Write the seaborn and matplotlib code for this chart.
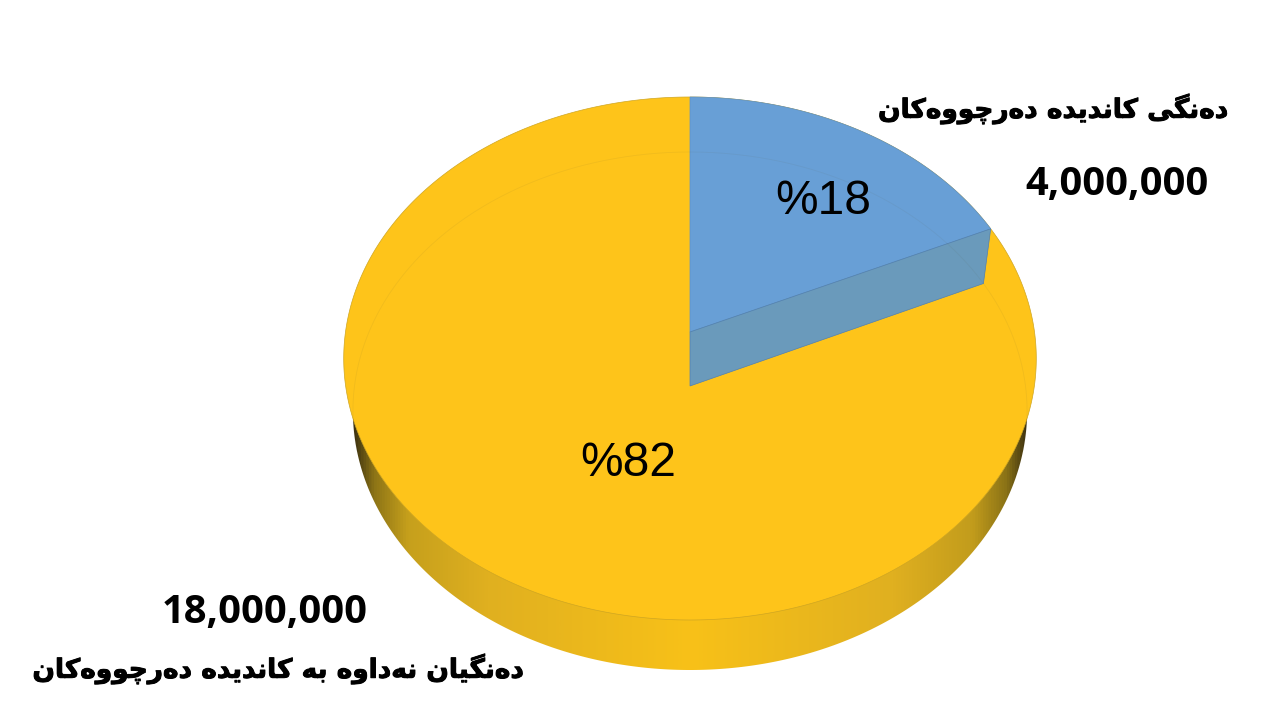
import numpy as np
import seaborn as sns
import matplotlib.pyplot as plt
import matplotlib.patheffects as pe
from matplotlib.colors import LinearSegmentedColormap
from matplotlib.patches import Polygon

# values
categories = ["دەنگی کاندیدە دەرچووەکان", "دەنگیان نەداوە بە کاندیدە دەرچووەکان"]
votes = [4000000, 18000000]
percent_labels = ["%18", "%82"]

# perspective of the disc, in pixels: centre x, half width, and the three y's
# of the far edge / apex / near edge give a projective mapping
TOP_FACE = dict(cx=690, width=344.5, far=97, apex=332, near=620)
BOTTOM_FACE = dict(cx=690, width=335.5, far=152, apex=386, near=670)

# matplotlib does no arabic shaping, so pick the presentation forms by hand
FORMS = {
    "ا": "\ufe8d\ufe8e", "د": "\ufea9\ufeaa", "ر": "\ufead\ufeae",
    "و": "\ufeed\ufeee", "ە": "\u06d5\ufeea",
    "ن": "\ufee5\ufee6\ufee7\ufee8", "گ": "\ufb92\ufb93\ufb94\ufb95",
    "ک": "\ufb8e\ufb8f\ufb90\ufb91", "ی": "\ufbfc\ufbfd\ufbfe\ufbff",
    "چ": "\ufb7a\ufb7b\ufb7c\ufb7d", "ب": "\ufe8f\ufe90\ufe91\ufe92",
}


def shape(text):
    out = []
    for i, ch in enumerate(text):
        if ch not in FORMS:
            out.append(ch)
            continue
        before = text[i - 1] if i > 0 else " "
        after = text[i + 1] if i + 1 < len(text) else " "
        joins_prev = before in FORMS and len(FORMS[before]) == 4
        joins_next = after in FORMS and len(FORMS[ch]) == 4
        # forms are ordered isolated, final, initial, medial
        out.append(FORMS[ch][int(joins_prev) + 2 * int(joins_next)])
    return "".join(reversed(out))


def project(face, theta, r=1.0):
    # theta clockwise from 12 o'clock, r 0..1 on the disc
    far, apex, near = face["far"], face["apex"], face["near"]
    c = (far + near - 2 * apex) / (near - far)
    a = far * (1 + c) - apex
    v = r * np.cos(theta)
    u = r * np.sin(theta)
    den = 1 + c * v
    return face["cx"] + face["width"] * u / den, (a * v + apex) / den


sns.set_theme(style="white")
plt.rcParams["font.family"] = ["Liberation Sans", "DejaVu Sans"]

blue, yellow = sns.color_palette(["#689FD6", "#FEC41A"])
blue_wall = "#6A9ABB"

fig, ax = plt.subplots(figsize=(12.8, 7.2), dpi=100)
fig.subplots_adjust(left=0, right=1, top=1, bottom=0)

shares = np.array(votes) / sum(votes)
sweep = shares[0] * 2 * np.pi
circle = np.linspace(0, 2 * np.pi, 721)

# side wall: horizontal shading clipped to the lower ellipse
wall_cmap = LinearSegmentedColormap.from_list("wall", [
    (0.00, "#3d3210"), (0.03, "#8d7416"), (0.08, "#c6a01c"), (0.20, "#e0b020"),
    (0.50, "#f8c118"), (0.80, "#e0b020"), (0.92, "#c29c1c"), (0.97, "#8a7216"),
    (1.00, "#3d3210"),
])
bx, by = project(BOTTOM_FACE, circle)
im = ax.imshow(np.linspace(0, 1, 512)[None, :], cmap=wall_cmap, aspect="auto",
               extent=(bx.min(), bx.max(), by.max(), by.min()))
im.set_clip_path(Polygon(np.c_[bx, by], transform=ax.transData))

# yellow top face
tx, ty = project(TOP_FACE, circle)
ax.fill(tx, ty, fc=yellow, ec="#CFA622", lw=0.5)

# blue slice pulled from the disc
arc = np.linspace(0, sweep, 200)
arc_x, arc_y = project(TOP_FACE, arc)
apex_x, apex_y = project(TOP_FACE, 0.0, 0.0)
ax.fill(np.r_[apex_x, arc_x], np.r_[apex_y, arc_y], fc=blue, ec="#5F93C8", lw=0.5)

# inner wall of the slice
ex, ey = project(TOP_FACE, sweep)
fx, fy = project(BOTTOM_FACE, sweep)
bax, bay = project(BOTTOM_FACE, 0.0, 0.0)
ax.fill([apex_x, ex, fx, bax], [apex_y, ey, fy, bay], fc=blue_wall, ec="#4F80B4", lw=0.5)

# faint far edge of the bottom face seen through the top
back = np.linspace(-np.pi / 2 - 0.25, np.pi / 2 + 0.25, 300)
lx, ly = project(BOTTOM_FACE, back)
ax.plot(lx, ly, color="#5a5a3a", lw=0.6, alpha=0.08)

ax.text(823, 201, percent_labels[0], fontsize=34.5, ha="center", va="center", color="black")
ax.text(628, 464, percent_labels[1], fontsize=34.5, ha="center", va="center", color="black")

ax.text(1117, 185, f"{votes[0]:,}", fontsize=28.7, fontweight="bold", family="Open Sans",
        ha="center", va="center", color="black")
ax.text(265, 612, f"{votes[1]:,}", fontsize=28.7, fontweight="bold", family="Open Sans",
        ha="center", va="center", color="black")

# the reference face is heavier than DejaVu Bold, thicken it a bit
heavy = [pe.withStroke(linewidth=0.7, foreground="black")]
ax.text(1053, 109, shape(categories[0]), fontsize=19, fontweight="bold", family="DejaVu Sans",
        ha="center", va="center", color="black", path_effects=heavy)
ax.text(278, 669, shape(categories[1]), fontsize=19, fontweight="bold", family="DejaVu Sans",
        ha="center", va="center", color="black", path_effects=heavy)

ax.set_xlim(0, 1280)
ax.set_ylim(720, 0)
ax.axis("off")

fig.savefig("out.png", dpi=100)
